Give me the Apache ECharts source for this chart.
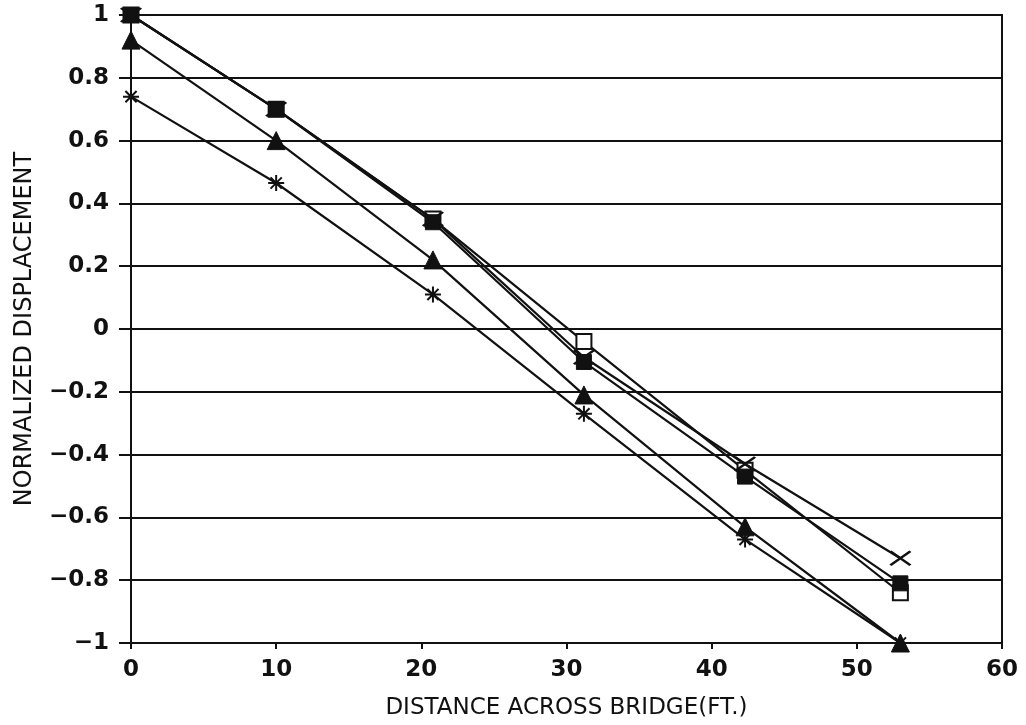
<!DOCTYPE html>
<html>
<head>
<meta charset="utf-8">
<script src="https://cdn.jsdelivr.net/npm/echarts@6/dist/echarts.min.js"></script>
<style>
html,body{margin:0;padding:0;background:#fff;}
#chart{width:1026px;height:725px;}
</style>
</head>
<body>
<div id="chart"></div>
<script>
// Data
const distances = [0, 10, 20.8, 31.2, 42.3, 53];
const openSquare = [1.0, 0.70, 0.35, -0.04, -0.45, -0.84];
const filledSquare = [1.0, 0.70, 0.34, -0.105, -0.47, -0.81];
const triangle = [0.92, 0.60, 0.22, -0.21, -0.63, -1.0];
const crossX = [1.0, 0.70, 0.35, -0.09, -0.43, -0.73];
const asterisk = [0.74, 0.465, 0.11, -0.27, -0.67, -1.0];
const xTickLabels = ['0', '10', '20', '30', '40', '50', '60'];
const yTickLabels = ['\u22121', '\u22120.8', '\u22120.6', '\u22120.4', '\u22120.2', '0', '0.2', '0.4', '0.6', '0.8', '1'];

const pair = arr => distances.map((d, i) => [d, arr[i]]);
const ink = '#111';
const font = 'DejaVu Sans';

const asteriskPath = 'path://M0,10 L20,10 M10,0 L10,20 M3,3 L17,17 M17,3 L3,17';
const crossPath = 'path://M0,0 L20,14 M20,0 L0,14';

function series(name, data, symbol, size, style, z) {
  return {
    name: name,
    type: 'line',
    data: pair(data),
    symbol: symbol,
    symbolSize: size,
    showSymbol: true,
    lineStyle: {color: ink, width: 2.2},
    itemStyle: style,
    z: z,
    animation: false
  };
}

const chart = echarts.init(document.getElementById('chart'));
chart.setOption({
  backgroundColor: '#fff',
  animation: false,
  grid: {left: 131, right: 24, top: 15, bottom: 82, containLabel: false, outerBoundsMode: 'none',
         show: true, borderColor: ink, borderWidth: 2, backgroundColor: 'transparent'},
  xAxis: {
    type: 'value', min: 0, max: 60, interval: 10,
    position: 'bottom',
    axisLine: {onZero: false, lineStyle: {color: ink, width: 2}},
    axisTick: {show: true, inside: false, length: 6, lineStyle: {color: ink, width: 2}},
    axisLabel: {
      color: ink, fontFamily: font, fontWeight: 'bold', fontSize: 23, margin: 16,
      formatter: v => xTickLabels[Math.round(v / 10)]
    },
    splitLine: {show: false},
    name: 'DISTANCE ACROSS BRIDGE(FT.)',
    nameLocation: 'middle', nameGap: 54,
    nameTextStyle: {color: ink, fontFamily: font, fontSize: 23}
  },
  yAxis: {
    type: 'value', min: -1, max: 1, interval: 0.2,
    axisLine: {onZero: false, lineStyle: {color: ink, width: 2}},
    axisTick: {show: true, inside: false, length: 12, lineStyle: {color: ink, width: 2}},
    axisLabel: {
      color: ink, fontFamily: font, fontWeight: 'bold', fontSize: 23, margin: 22,
      formatter: v => yTickLabels[Math.round((v + 1) / 0.2)]
    },
    splitLine: {show: true, lineStyle: {color: ink, width: 2}},
    name: 'NORMALIZED DISPLACEMENT',
    nameLocation: 'middle', nameGap: 94, nameRotate: 90,
    nameTextStyle: {color: ink, fontFamily: font, fontSize: 24}
  },
  series: [
    series('open square', openSquare, 'rect', 15, {color: '#fff', borderColor: ink, borderWidth: 2}, 2),
    series('filled square', filledSquare, 'rect', 15, {color: ink, borderColor: ink, borderWidth: 1}, 3),
    series('triangle', triangle, 'triangle', 18, {color: ink, borderColor: ink, borderWidth: 1}, 3),
    series('cross', crossX, crossPath, [20, 14], {color: 'none', borderColor: ink, borderWidth: 2.5}, 4),
    series('asterisk', asterisk, asteriskPath, 16, {color: 'none', borderColor: ink, borderWidth: 2}, 4)
  ]
});
</script>
</body>
</html>
